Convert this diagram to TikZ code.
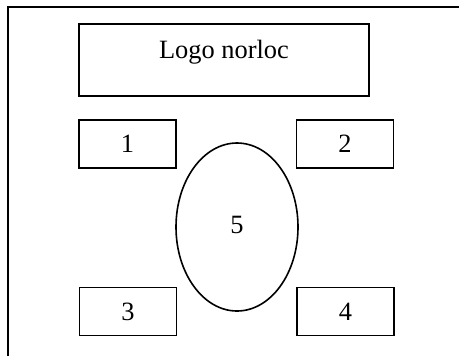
\documentclass[tikz,border=0pt]{standalone}
\usepackage{fontspec}
\setmainfont{Liberation Serif}
\usetikzlibrary{shapes.geometric}
\begin{document}
\begin{tikzpicture}[x=1bp,y=-1bp,
  txt/.style={font=\fontsize{26.5}{26.5}\selectfont},
  box/.style={draw,line width=1.6bp,minimum width=97bp,minimum height=48bp,inner sep=0pt,txt},
  frame/.style={line width=2bp}]
\useasboundingbox (0,0) rectangle (459,356);
\draw[frame] (8,356) -- (8,6.5) -- (459,6.5);
\node[box,minimum width=290bp,minimum height=72bp] (logo) at (224,60) {};
\node[txt,inner sep=0pt] (logotext) at (224,52) {Logo norloc};
\node[box] (b1) at (127.5,144) {1};
\node[box] (b2) at (345,144) {2};
\node[box] (b3) at (128,311.5) {\raisebox{-2bp}{3}};
\node[box] (b4) at (345.5,311.5) {\raisebox{-2bp}{4}};
\node[draw,ellipse,line width=1.6bp,minimum width=122bp,minimum height=168bp,inner sep=0pt,txt] (e5) at (237,227) {\raisebox{4bp}{5}};
\end{tikzpicture}
\end{document}
